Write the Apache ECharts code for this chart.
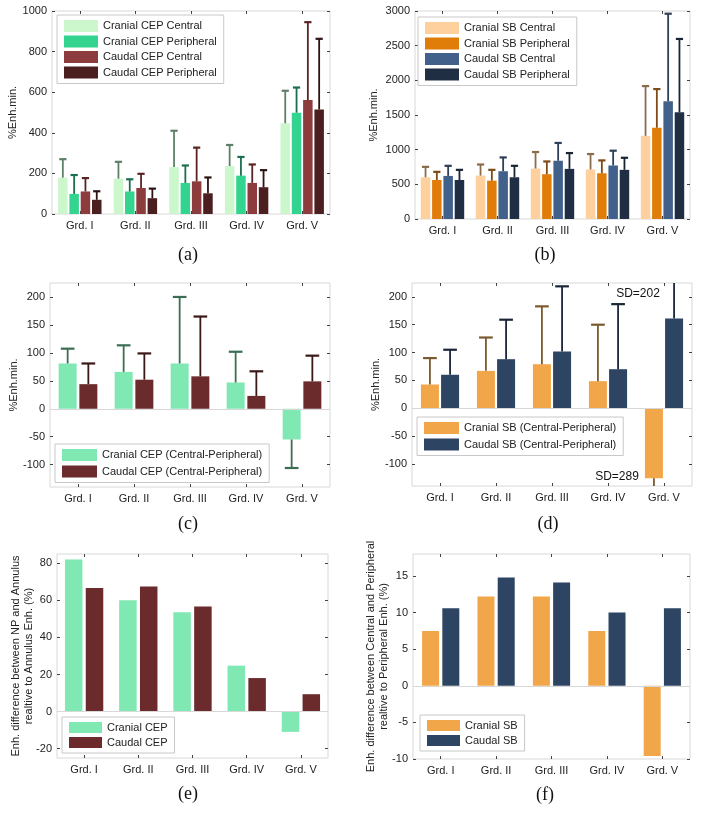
<!DOCTYPE html>
<html>
<head>
<meta charset="utf-8">
<script src="https://cdn.jsdelivr.net/npm/echarts@6/dist/echarts.min.js"></script>
<style>
  html, body { margin: 0; padding: 0; background: #fff; }
  #chart { width: 701px; height: 815px; }
</style>
</head>
<body>
<div id="chart"></div>
<script>
// categories
const grades = ['Grd. I', 'Grd. II', 'Grd. III', 'Grd. IV', 'Grd. V'];

// (a) CEP enhancement, mean and SD
const cepCranCentral = [179, 174, 231, 236, 447];
const cepCranCentralSD = [91, 83, 179, 104, 160];
const cepCranPeriph = [99, 111, 153, 189, 499];
const cepCranPeriphSD = [93, 60, 86, 92, 124];
const cepCaudCentral = [111, 128, 161, 153, 561];
const cepCaudCentralSD = [66, 70, 166, 91, 384];
const cepCaudPeriph = [70, 78, 102, 132, 515];
const cepCaudPeriphSD = [42, 47, 78, 84, 348];

// (b) SB enhancement
const sbCranCentral = [602, 626, 728, 714, 1199];
const sbCranCentralSD = [150, 160, 238, 223, 718];
const sbCranPeriph = [563, 553, 646, 660, 1316];
const sbCranPeriphSD = [117, 156, 184, 185, 558];
const sbCaudCentral = [621, 689, 840, 772, 1699];
const sbCaudCentralSD = [146, 199, 257, 213, 1262];
const sbCaudPeriph = [563, 602, 723, 709, 1539];
const sbCaudPeriphSD = [146, 165, 228, 174, 1058];

// (c) CEP central - peripheral
const cepDiffCran = [81, 66, 81, 47, -55];
const cepDiffCranSD = [26.5, 47.5, 119, 55, 51];
const cepDiffCaud = [44, 52, 58, 23, 49];
const cepDiffCaudSD = [37, 47, 107, 44, 46];

// (d) SB central - peripheral
const sbDiffCran = [42.5, 67, 79, 48.5, -126];
const sbDiffCranSD = [47.5, 60, 104, 101.5, 289];
const sbDiffCaud = [60, 88, 102, 70, 161];
const sbDiffCaudSD = [45, 71, 117, 117, 202];

// (e) relative difference NP vs annulus (%)
const cepRelCran = [82, 60, 53.6, 24.8, -10.9];
const cepRelCaud = [66.6, 67.5, 56.7, 18.1, 9.4];

// (f) relative difference central vs peripheral (%)
const sbRelCran = [7.5, 12.2, 12.2, 7.5, -9.6];
const sbRelCaud = [10.6, 14.8, 14.1, 10.0, 10.6];

// tick labels
const ticksA = [0, 200, 400, 600, 800, 1000];
const ticksB = [0, 500, 1000, 1500, 2000, 2500, 3000];
const ticksCD = [-100, -50, 0, 50, 100, 150, 200];
const ticksE = [-20, 0, 20, 40, 60, 80];
const ticksF = [-10, -5, 0, 5, 10, 15];

const FONT = 'Liberation Sans, Arial, sans-serif';
const FS = 11;
const chart = echarts.init(document.getElementById('chart'));

const grids = [], xAxes = [], yAxes = [], series = [], legends = [];

// one-sided error bar drawn next to its bar
function errRender(i, n, bw, gap, color) {
  return function (params, api) {
    const idx = api.value(0), v = api.value(1), sd = api.value(2);
    const base = api.coord([idx, v]);
    const end = api.coord([idx, v + (v < 0 ? -sd : sd)]);
    const x = base[0] + (i - (n - 1) / 2) * bw * (1 + gap);
    const cs = params.coordSys;
    let y2 = end[1], cap = true;
    if (y2 < cs.y) { y2 = cs.y; cap = false; }
    if (y2 > cs.y + cs.height) { y2 = cs.y + cs.height; cap = false; }
    const kids = [{ type: 'line', shape: { x1: x, y1: base[1], x2: x, y2: y2 }, style: { stroke: color, lineWidth: 1.8 } }];
    if (cap) {
      const c = bw * 0.38;
      kids.push({ type: 'line', shape: { x1: x - c, y1: y2, x2: x + c, y2: y2 }, style: { stroke: color, lineWidth: 2.2 } });
    }
    return { type: 'group', children: kids };
  };
}

function addPanel(p) {
  const k = grids.length;
  grids.push({ left: p.box[0], top: p.box[1], width: p.box[2], height: p.box[3],
    show: true, borderColor: '#d8d8d8', borderWidth: 1 });
  const tick = { show: true, inside: true, alignWithLabel: true, length: 3, lineStyle: { color: '#444' } };
  xAxes.push({ gridIndex: k, type: 'category', data: grades, position: 'bottom',
    axisLine: { show: false, onZero: false }, axisTick: tick,
    axisLabel: { color: '#222', fontSize: FS, margin: 6, fontFamily: FONT }, splitLine: { show: false } });
  xAxes.push({ gridIndex: k, type: 'category', data: grades, position: 'top',
    axisLine: { show: false, onZero: false }, axisTick: tick, axisLabel: { show: false } });
  const ytick = { show: true, inside: true, length: 3, lineStyle: { color: '#444' }, customValues: p.ticks };
  yAxes.push({ gridIndex: k, type: 'value', position: 'left', min: p.min, max: p.max,
    axisLine: { show: false }, axisTick: ytick, splitLine: { show: false },
    axisLabel: { customValues: p.ticks, color: '#222', fontSize: FS, margin: 5, fontFamily: FONT,
      formatter: v => String(v) },
    name: p.yName, nameLocation: 'middle', nameGap: p.nameGap, nameMoveOverlap: false,
    nameTextStyle: { color: '#222', fontSize: FS, fontFamily: FONT, lineHeight: 13 } });
  yAxes.push({ gridIndex: k, type: 'value', position: 'right', min: p.min, max: p.max,
    axisLine: { show: false }, axisTick: ytick, splitLine: { show: false }, axisLabel: { show: false } });

  const n = p.bars.length;
  p.bars.forEach((b, i) => {
    const s = { type: 'bar', name: b.name, xAxisIndex: 2 * k, yAxisIndex: 2 * k, data: b.data,
      barWidth: p.bw, barGap: (p.gap * 100) + '%', itemStyle: { color: b.color }, z: 2, silent: true };
    if (i === 0 && p.zeroLine) {
      s.markLine = { silent: true, symbol: 'none', label: { show: false }, animation: false,
        lineStyle: { color: '#d8d8d8', type: 'solid', width: 1 }, data: [{ yAxis: 0 }] };
    }
    series.push(s);
    if (b.sd) {
      series.push({ type: 'custom', name: b.name + ' SD', xAxisIndex: 2 * k, yAxisIndex: 2 * k, z: 3, silent: true,
        data: b.data.map((v, j) => [j, v, b.sd[j]]), encode: { x: 0, y: 1 },
        renderItem: errRender(i, n, p.bw, p.gap, b.err) });
    }
  });

  legends.push({ left: p.leg[0], top: p.leg[1], orient: 'vertical', icon: 'rect',
    itemWidth: p.leg[2], itemHeight: p.leg[3], itemGap: p.leg[4], padding: [5, 7, 5, 7],
    borderColor: '#c8c8c8', borderWidth: 1, backgroundColor: '#fff', selectedMode: false,
    textStyle: { color: '#222', fontSize: FS, fontFamily: FONT },
    data: p.bars.map(b => b.name) });
}

addPanel({ box: [52, 11, 278, 203], min: 0, max: 1000, ticks: ticksA, yName: '%Enh.min.', nameGap: 33,
  bw: 9.5, gap: 0.19, leg: [57, 15, 34, 12, 3.5],
  bars: [
    { name: 'Cranial CEP Central', data: cepCranCentral, sd: cepCranCentralSD, color: '#ccf7cc', err: '#5f7f67' },
    { name: 'Cranial CEP Peripheral', data: cepCranPeriph, sd: cepCranPeriphSD, color: '#33d48f', err: '#1c6e50' },
    { name: 'Caudal CEP Central', data: cepCaudCentral, sd: cepCaudCentralSD, color: '#8c3c3c', err: '#5b2323' },
    { name: 'Caudal CEP Peripheral', data: cepCaudPeriph, sd: cepCaudPeriphSD, color: '#4b1f1f', err: '#2c1414' }
  ] });

addPanel({ box: [415, 11, 275, 208], min: 0, max: 3000, ticks: ticksB, yName: '%Enh.min.', nameGap: 35,
  bw: 9.5, gap: 0.19, leg: [418, 17, 34, 12, 3.5],
  bars: [
    { name: 'Cranial SB Central', data: sbCranCentral, sd: sbCranCentralSD, color: '#fdd09e', err: '#8c6b4b' },
    { name: 'Cranial SB Peripheral', data: sbCranPeriph, sd: sbCranPeriphSD, color: '#e07c08', err: '#7e4a18' },
    { name: 'Caudal SB Central', data: sbCaudCentral, sd: sbCaudCentralSD, color: '#41618b', err: '#2e3f58' },
    { name: 'Caudal SB Peripheral', data: sbCaudPeriph, sd: sbCaudPeriphSD, color: '#1f2e43', err: '#1b2433' }
  ] });

addPanel({ box: [50, 283, 280, 204], min: -140, max: 225, ticks: ticksCD, yName: '%Enh.min.', nameGap: 30,
  bw: 18, gap: 0.15, zeroLine: true, leg: [55, 444, 35, 12, 4.5],
  bars: [
    { name: 'Cranial CEP (Central-Peripheral)', data: cepDiffCran, sd: cepDiffCranSD, color: '#80e8b2', err: '#3b6d52' },
    { name: 'Caudal CEP (Central-Peripheral)', data: cepDiffCaud, sd: cepDiffCaudSD, color: '#6b2b2d', err: '#3a1818' }
  ] });

addPanel({ box: [412, 283, 280, 203], min: -140, max: 225, ticks: ticksCD, yName: '%Enh.min.', nameGap: 30,
  bw: 18, gap: 0.12, zeroLine: true, leg: [417, 417, 35, 12, 4.5],
  bars: [
    { name: 'Cranial SB (Central-Peripheral)', data: sbDiffCran, sd: sbDiffCranSD, color: '#f2a64a', err: '#7a5a2e' },
    { name: 'Caudal SB (Central-Peripheral)', data: sbDiffCaud, sd: sbDiffCaudSD, color: '#2d4462', err: '#1a2638' }
  ] });

addPanel({ box: [57, 554, 271, 204], min: -25, max: 85, ticks: ticksE,
  yName: 'Enh. difference between NP and Annulus\nrealtive to Annulus Enh. (%)', nameGap: 22,
  bw: 17.5, gap: 0.19, zeroLine: true, leg: [62, 717, 33, 11, 4],
  bars: [
    { name: 'Cranial CEP', data: cepRelCran, color: '#80e8b2' },
    { name: 'Caudal CEP', data: cepRelCaud, color: '#6b2b2d' }
  ] });

addPanel({ box: [413, 554, 277, 205], min: -10, max: 18, ticks: ticksF,
  yName: 'Enh. difference between Central and Peripheral\nrealtive to Peripheral Enh. (%)', nameGap: 23,
  bw: 17, gap: 0.19, zeroLine: true, leg: [420, 715, 33, 11, 4],
  bars: [
    { name: 'Cranial SB', data: sbRelCran, color: '#f2a64a' },
    { name: 'Caudal SB', data: sbRelCaud, color: '#2d4462' }
  ] });

const serif = '18px "Liberation Serif", "Times New Roman", serif';
const small = '12px ' + FONT;
function txt(t, x, y, font) {
  return { type: 'text', x: x, y: y, silent: true,
    style: { text: t, font: font, fill: '#111', textAlign: 'center', textVerticalAlign: 'middle' } };
}

chart.setOption({
  animation: false,
  grid: grids,
  xAxis: xAxes,
  yAxis: yAxes,
  legend: legends,
  series: series,
  graphic: [
    txt('(a)', 188, 255, serif), txt('(b)', 545, 255, serif),
    txt('(c)', 188, 524, serif), txt('(d)', 548, 524, serif),
    txt('(e)', 188, 794, serif), txt('(f)', 545, 795, serif),
    txt('SD=202', 638, 294, small), txt('SD=289', 617, 477, small)
  ]
});
</script>
</body>
</html>
